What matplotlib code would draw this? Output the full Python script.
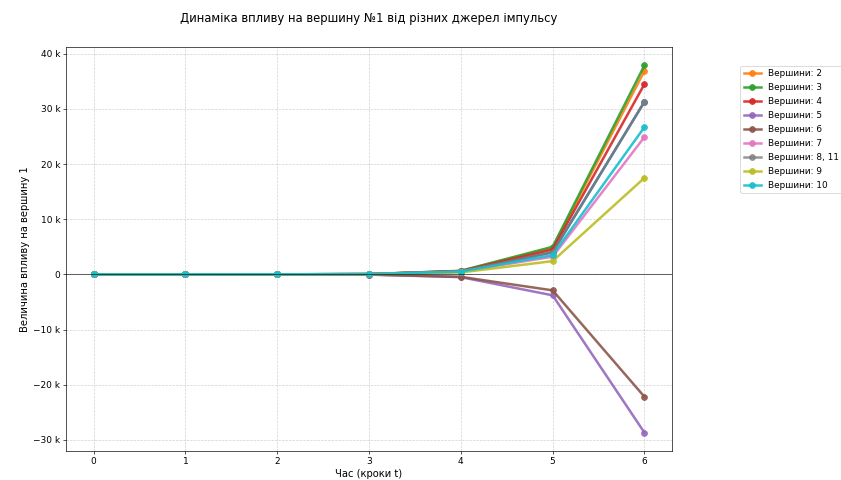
import matplotlib
matplotlib.use("Agg")
import matplotlib.pyplot as plt
from matplotlib.ticker import EngFormatter

# кроки часу
t = [0, 1, 2, 3, 4, 5, 6]

# вплив від різних джерел
v2 = [0, 0, 10, 50, 600, 4800, 36900]
v3 = [0, 0, 10, 50, 650, 5000, 37900]
v4 = [0, 0, 10, 50, 600, 4500, 34500]
v5 = [0, 0, -10, -40, -500, -3800, -28700]
v6 = [0, 0, -10, -40, -450, -2900, -22200]
v7 = [0, 0, 10, 40, 500, 3200, 24900]
v8_11 = [0, 0, 10, 50, 550, 4000, 31300]
v9 = [0, 0, 5, 30, 350, 2400, 17500]
v10 = [0, 0, 10, 40, 500, 3500, 26700]

labels = ["Вершини: 2", "Вершини: 3", "Вершини: 4", "Вершини: 5", "Вершини: 6",
          "Вершини: 7", "Вершини: 8, 11", "Вершини: 9", "Вершини: 10"]
series = [v2, v3, v4, v5, v6, v7, v8_11, v9, v10]
colors = ["#ff7f0e", "#2ca02c", "#d62728", "#9467bd", "#8c564b",
          "#e377c2", "#7f7f7f", "#bcbd22", "#17becf"]

# 14x8 дюймів, зменшено до 841x480
fig = plt.figure(figsize=(841 / 60, 8), dpi=60)
ax = fig.add_axes([66 / 841, 1 - 451 / 480, (672 - 66) / 841, (451 - 47) / 480])

# вершина 11 має ті самі значення, що й 8 (синя лінія під сірою)
ax.plot(t, v8_11, marker="o", markersize=7, linewidth=3, color="#1f77b4",
        label="_nolegend_")
for vals, lab, c in zip(series, labels, colors):
    ax.plot(t, vals, marker="o", markersize=7, linewidth=3, color=c, label=lab,
            alpha=0.8 if lab.endswith("11") else 0.9)

ax.axhline(0, color="black", linewidth=1, alpha=0.7)
ax.grid(True, linestyle="--", alpha=0.6)
ax.yaxis.set_major_formatter(EngFormatter())
ax.tick_params(labelsize=10.8)
ax.set_xlabel("Час (кроки t)", fontsize=12)
ax.set_ylabel("Величина впливу на вершину 1", fontsize=12)
ax.set_title("Динаміка впливу на вершину №1 від різних джерел імпульсу", fontsize=14, pad=30)
ax.legend(loc="upper left", bbox_to_anchor=(1.105, 0.965), fontsize=10.6, labelspacing=0.56)

fig.savefig("out.png", dpi=60)
